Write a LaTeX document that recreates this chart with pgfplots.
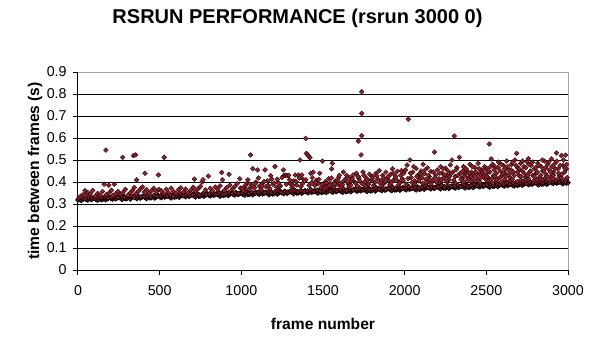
\documentclass[border=0pt]{standalone}
\usepackage{fontspec}
\setmainfont{Liberation Sans}
\usepackage{pgfplots}
\pgfplotsset{compat=1.18}
\definecolor{mk}{RGB}{150,30,40}
\pgfplotstableread{
x y
0 .318
10 .324
20 .316
30 .322
40 .327
50 .322
60 .318
70 .327
80 .320
90 .324
100 .327
110 .322
120 .317
130 .330
140 .320
150 .321
160 .327
170 .319
180 .325
190 .330
200 .326
210 .322
220 .331
230 .324
240 .328
250 .331
260 .326
270 .321
280 .334
290 .324
300 .325
310 .331
320 .323
330 .329
340 .334
350 .329
360 .325
370 .334
380 .327
390 .331
400 .335
410 .330
420 .325
430 .338
440 .328
450 .329
460 .335
470 .327
480 .333
490 .338
500 .333
510 .329
520 .338
530 .331
540 .335
550 .338
560 .333
570 .328
580 .341
590 .331
600 .333
610 .339
620 .331
630 .337
640 .342
650 .337
660 .333
670 .342
680 .335
690 .339
700 .342
710 .337
720 .332
730 .345
740 .335
750 .337
760 .343
770 .335
780 .341
790 .346
800 .341
810 .337
820 .346
830 .339
840 .343
850 .346
860 .341
870 .336
880 .349
890 .339
900 .341
910 .347
920 .339
930 .345
940 .350
950 .345
960 .341
970 .350
980 .343
990 .347
1000 .350
1010 .345
1020 .340
1030 .353
1040 .343
1050 .344
1060 .350
1070 .342
1080 .348
1090 .353
1100 .348
1110 .344
1120 .353
1130 .346
1140 .350
1150 .353
1160 .348
1170 .343
1180 .356
1190 .346
1200 .347
1210 .353
1220 .345
1230 .351
1240 .356
1250 .351
1260 .347
1270 .356
1280 .349
1290 .353
1300 .357
1310 .352
1320 .347
1330 .360
1340 .350
1350 .351
1360 .357
1370 .349
1380 .355
1390 .360
1400 .355
1410 .351
1420 .360
1430 .353
1440 .357
1450 .360
1460 .355
1470 .350
1480 .363
1490 .353
1500 .354
1510 .360
1520 .352
1530 .358
1540 .363
1550 .358
1560 .354
1570 .363
1580 .356
1590 .360
1600 .363
1610 .358
1620 .353
1630 .366
1640 .356
1650 .358
1660 .364
1670 .356
1680 .362
1690 .367
1700 .362
1710 .358
1720 .367
1730 .360
1740 .364
1750 .367
1760 .362
1770 .357
1780 .370
1790 .360
1800 .361
1810 .367
1820 .359
1830 .365
1840 .370
1850 .365
1860 .361
1870 .370
1880 .363
1890 .367
1900 .371
1910 .366
1920 .361
1930 .374
1940 .364
1950 .365
1960 .371
1970 .363
1980 .369
1990 .374
2000 .369
2010 .365
2020 .374
2030 .367
2040 .371
2050 .374
2060 .369
2070 .364
2080 .377
2090 .367
2100 .369
2110 .375
2120 .367
2130 .373
2140 .378
2150 .373
2160 .369
2170 .378
2180 .371
2190 .375
2200 .379
2210 .374
2220 .369
2230 .382
2240 .372
2250 .373
2260 .379
2270 .371
2280 .377
2290 .382
2300 .377
2310 .373
2320 .382
2330 .375
2340 .379
2350 .383
2360 .378
2370 .373
2380 .386
2390 .376
2400 .377
2410 .383
2420 .375
2430 .381
2440 .386
2450 .382
2460 .378
2470 .387
2480 .380
2490 .384
2500 .387
2510 .382
2520 .377
2530 .390
2540 .380
2550 .382
2560 .388
2570 .380
2580 .386
2590 .391
2600 .386
2610 .382
2620 .391
2630 .384
2640 .388
2650 .392
2660 .387
2670 .382
2680 .395
2690 .385
2700 .387
2710 .393
2720 .385
2730 .391
2740 .396
2750 .392
2760 .388
2770 .397
2780 .390
2790 .394
2800 .397
2810 .392
2820 .387
2830 .400
2840 .390
2850 .392
2860 .398
2870 .390
2880 .396
2890 .401
2900 .397
2910 .393
2920 .402
2930 .395
2940 .399
2950 .402
2960 .397
2970 .392
2980 .405
2990 .395
3000 .397
}\band
\pgfplotstableread{
x y
5 .326
25 .330
45 .323
65 .331
85 .327
105 .325
125 .332
145 .329
165 .333
185 .327
205 .331
225 .336
245 .329
265 .334
285 .330
305 .333
325 .338
345 .331
365 .336
385 .332
405 .336
425 .341
445 .334
465 .339
485 .335
505 .338
525 .343
545 .336
565 .341
585 .337
605 .341
625 .346
645 .339
665 .344
685 .340
705 .343
725 .348
745 .341
765 .347
785 .343
805 .346
825 .351
845 .344
865 .349
885 .345
905 .349
925 .354
945 .347
965 .352
985 .348
1005 .351
1025 .356
1045 .349
1065 .354
1085 .350
1105 .353
1125 .358
1145 .351
1165 .356
1185 .352
1205 .355
1225 .360
1245 .353
1265 .358
1285 .354
1305 .358
1325 .363
1345 .356
1365 .361
1385 .357
1405 .360
1425 .365
1445 .358
1465 .363
1485 .359
1505 .362
1525 .367
1545 .360
1565 .365
1585 .361
1605 .364
1625 .369
1645 .362
1665 .368
1685 .364
1705 .367
1725 .372
1745 .365
1765 .370
1785 .366
1805 .369
1825 .374
1845 .367
1865 .372
1885 .368
1905 .372
1925 .377
1945 .370
1965 .375
1985 .371
2005 .374
2025 .379
2045 .372
2065 .377
2085 .373
2105 .377
2125 .382
2145 .375
2165 .380
2185 .376
2205 .380
2225 .385
2245 .378
2265 .383
2285 .379
2305 .382
2325 .387
2345 .380
2365 .386
2385 .382
2405 .385
2425 .390
2445 .383
2465 .389
2485 .385
2505 .388
2525 .393
2545 .386
2565 .392
2585 .388
2605 .391
2625 .396
2645 .389
2665 .395
2685 .391
2705 .395
2725 .400
2745 .393
2765 .399
2785 .395
2805 .398
2825 .403
2845 .396
2865 .402
2885 .398
2905 .402
2925 .407
2945 .400
2965 .405
2985 .401
}\bandtwo
\pgfplotstableread{
x y
15 .335
30 .342
43 .360
45 .338
60 .352
75 .345
90 .361
105 .336
120 .348
135 .341
150 .357
160 .390
171 .545
175 .343
188 .385
190 .350
205 .362
215 .339
222 .390
230 .347
245 .357
260 .344
273 .512
275 .352
290 .366
305 .340
320 .351
335 .362
339 .520
345 .375
353 .523
355 .346
359 .410
370 .358
385 .371
395 .377
405 .354
410 .440
420 .365
435 .349
450 .360
465 .372
480 .355
492 .432
495 .366
510 .360
525 .348
528 .512
540 .367
555 .352
570 .372
585 .357
600 .349
615 .365
630 .373
645 .355
660 .368
675 .351
690 .362
705 .376
712 .413
720 .358
735 .369
750 .380
760 .400
765 .410
780 .364
798 .427
810 .371
825 .358
840 .377
855 .366
870 .382
880 .443
885 .410
895 .361
910 .374
925 .435
930 .386
945 .368
960 .380
975 .392
990 .415
995 .372
1010 .362
1020 .378
1035 .395
1045 .368
1057 .523
1060 .387
1070 .460
1080 .374
1090 .400
1100 .455
1110 .381
1120 .366
1130 .393
1145 .455
1150 .378
1160 .405
1175 .370
1185 .413
1195 .389
1206 .470
1215 .376
1225 .398
1240 .383
1257 .455
1260 .430
1270 .430
1280 .430
1290 .430
1300 .392
1310 .374
1320 .405
1330 .432
1340 .386
1350 .432
1359 .500
1365 .379
1370 .432
1380 .412
1394 .598
1398 .530
1405 .525
1412 .518
1420 .510
1425 .440
1432 .398
1440 .445
1450 .385
1460 .408
1470 .392
1480 .440
1490 .375
1496 .495
1505 .388
1510 .372
1515 .402
1525 .380
1535 .415
1545 .395
1553 .460
1557 .485
1560 .375
1565 .378
1575 .405
1585 .390
1595 .420
1605 .383
1610 .377
1615 .398
1625 .445
1635 .410
1645 .430
1655 .392
1660 .379
1665 .420
1675 .405
1685 .432
1695 .398
1705 .440
1710 .382
1716 .586
1720 .415
1733 .523
1737 .610
1737 .712
1737 .810
1745 .445
1755 .402
1760 .380
1765 .418
1775 .395
1785 .435
1795 .410
1805 .425
1810 .384
1815 .398
1825 .440
1835 .415
1845 .452
1855 .405
1860 .386
1865 .430
1875 .395
1885 .445
1895 .418
1905 .405
1910 .388
1915 .435
1925 .460
1935 .412
1945 .425
1955 .448
1960 .385
1965 .400
1975 .430
1985 .415
1995 .440
2005 .455
2010 .390
2015 .477
2022 .685
2032 .500
2040 .420
2050 .445
2060 .405
2060 .392
2070 .462
2080 .430
2090 .415
2100 .450
2110 .395
2113 .480
2120 .438
2130 .412
2140 .465
2150 .425
2160 .448
2160 .393
2170 .405
2182 .536
2190 .432
2200 .455
2210 .415
2210 .398
2220 .470
2230 .440
2240 .420
2250 .462
2260 .430
2260 .400
2270 .410
2280 .478
2290 .500
2295 .445
2304 .609
2310 .425
2310 .396
2320 .465
2335 .512
2340 .440
2350 .418
2360 .470
2360 .402
2370 .435
2380 .452
2390 .420
2400 .480
2410 .445
2410 .405
2420 .428
2430 .465
2440 .412
2450 .485
2460 .440
2460 .400
2470 .455
2480 .425
2490 .470
2500 .438
2505 .460
2510 .420
2510 .408
2518 .573
2522 .445
2530 .505
2538 .480
2540 .395
2545 .430
2555 .468
2560 .404
2565 .412
2575 .490
2585 .450
2590 .400
2595 .428
2605 .475
2610 .410
2615 .440
2625 .495
2635 .455
2640 .405
2645 .420
2655 .480
2660 .412
2665 .445
2675 .500
2685 .530
2690 .465
2690 .402
2700 .430
2710 .485
2710 .408
2720 .450
2730 .470
2740 .420
2740 .410
2750 .490
2757 .506
2760 .415
2765 .445
2775 .475
2785 .430
2790 .405
2795 .460
2805 .440
2810 .412
2815 .485
2825 .420
2835 .470
2840 .412
2845 .450
2855 .495
2860 .418
2865 .435
2875 .480
2885 .455
2890 .410
2895 .425
2900 .505
2910 .445
2910 .415
2920 .485
2930 .532
2940 .460
2940 .416
2950 .430
2960 .520
2960 .420
2970 .475
2980 .445
2985 .522
2990 .460
2990 .412
2995 .420
1005 .372
1025 .385
1040 .410
1065 .378
1085 .392
1105 .418
1125 .380
1140 .402
1165 .385
1180 .428
1200 .395
1220 .412
1235 .380
1250 .420
1275 .390
1295 .410
1315 .385
1335 .402
1355 .418
1375 .392
1395 .410
1415 .385
1435 .420
1455 .398
1475 .412
1495 .390
1520 .395
1540 .385
1550 .418
1570 .392
1590 .405
1600 .430
1620 .388
1640 .412
1650 .400
1670 .385
1680 .415
1700 .395
1715 .425
1725 .405
1740 .392
1750 .430
1770 .410
1780 .390
1800 .415
1820 .400
1830 .428
1850 .395
1870 .418
1880 .402
1900 .425
1920 .398
1930 .440
1950 .410
1970 .395
1980 .452
1990 .405
2020 .415
2035 .440
2045 .398
2055 .470
2075 .425
2085 .405
2095 .440
2105 .420
2125 .455
2135 .400
2145 .430
2155 .410
2175 .445
2185 .420
2195 .400
2215 .440
2225 .410
2235 .460
2245 .432
2255 .405
2265 .450
2275 .425
2285 .440
2300 .408
2315 .455
2325 .430
2345 .410
2355 .448
2365 .425
2375 .460
2385 .410
2395 .440
2405 .425
2415 .470
2425 .410
2435 .445
2445 .430
2455 .460
2465 .418
2475 .440
2485 .455
2495 .412
2502 .425
2512 .450
2526 .470
2534 .415
2548 .455
2552 .425
2562 .440
2572 .465
2582 .420
2592 .480
2602 .440
2612 .460
2622 .425
2632 .470
2642 .435
2652 .455
2662 .490
2672 .430
2682 .475
2692 .445
2702 .460
2712 .425
2722 .495
2732 .440
2742 .465
2752 .430
2762 .480
2772 .450
2782 .490
2792 .425
2802 .465
2812 .445
2822 .475
2832 .430
2842 .500
2852 .450
2862 .465
2872 .425
2882 .490
2892 .445
2902 .470
2912 .430
2922 .460
2932 .495
2942 .440
2952 .475
2962 .435
2972 .500
2982 .460
2992 .480
}\scatterpts
\begin{document}
\begin{tikzpicture}
\path[use as bounding box] (0,0) rectangle (444pt,254.25pt);
\begin{axis}[
  at={(58.5pt,51.75pt)}, anchor=south west,
  scale only axis, width=367.5pt, height=148.5pt,
  xmin=0, xmax=3000, ymin=0, ymax=0.9,
  xtick={0,500,1000,1500,2000,2500,3000},
  ytick={0,0.1,0.2,0.3,0.4,0.5,0.6,0.7,0.8,0.9},
  /pgf/number format/assume math mode=true,
  /pgf/number format/1000 sep={},
  axis x line=bottom, axis y line=left,
  axis line style={-, black, line width=0.75pt},
  tick align=outside, major tick length=4pt,
  tick style={black, line width=0.75pt},
  ymajorgrids, grid style={black, line width=0.75pt},
  tick label style={font=\fontsize{10.7}{12}\selectfont},
  xticklabel style={yshift=-4pt},
  yticklabel style={xshift=-1pt},
  xlabel={frame number},
  ylabel={time between frames (s)},
  label style={font=\bfseries\fontsize{11.7}{13}\selectfont},
  xlabel style={at={(axis description cs:0.5,-0.303)}, anchor=base},
  ylabel style={at={(axis description cs:-0.0878,0.5)}, anchor=center},
  title={RSRUN PERFORMANCE (rsrun 3000 0)},
  title style={font=\bfseries\fontsize{15}{18}\selectfont, at={(axis description cs:0.448,1.207)}, anchor=base},
  clip=false,
]
\addplot[only marks, mark=square*, mark size=1.3pt,
  mark options={rotate=45, fill=mk!60!black, draw=black, line width=0.45pt}]
  table[x=x,y=y] {\band};
\addplot[only marks, mark=square*, mark size=1.3pt,
  mark options={rotate=45, fill=mk!80!black, draw=black, line width=0.35pt}]
  table[x=x,y=y] {\bandtwo};
\addplot[only marks, mark=square*, mark size=1.3pt,
  mark options={rotate=45, fill=mk, draw=black, line width=0.2pt}]
  table[x=x,y=y] {\scatterpts};
\draw[gray!70, line width=0.75pt] (rel axis cs:0,1) -- (rel axis cs:1,1) -- (rel axis cs:1,0);
\end{axis}
\end{tikzpicture}
\end{document}
